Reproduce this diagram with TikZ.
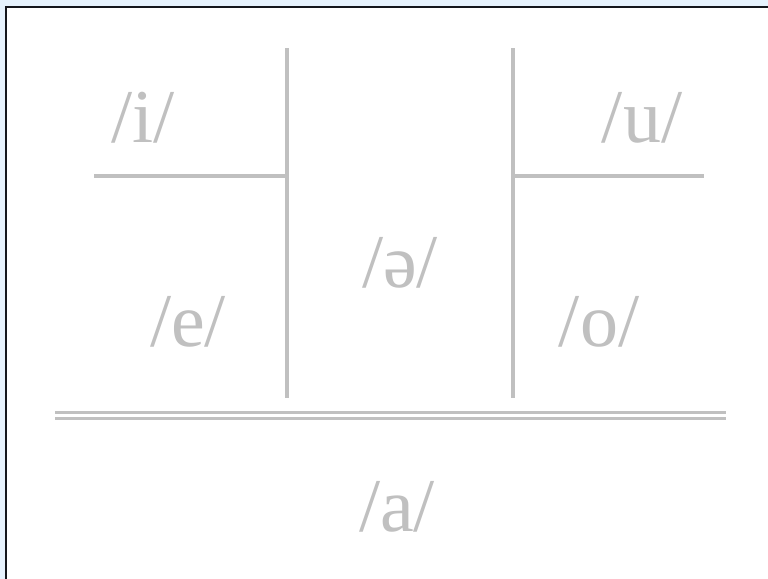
\documentclass[tikz,border=0pt]{standalone}
\usepackage{fontspec}
\setmainfont{Liberation Serif}
\definecolor{framebg}{RGB}{230,242,253}
\definecolor{framerule}{RGB}{20,22,28}
\definecolor{vowelgray}{RGB}{192,192,192}
\begin{document}
\begin{tikzpicture}[x=0.5pt,y=-0.5pt,font=\fontsize{38}{44}\selectfont,
  vowel/.style={text=vowelgray,inner sep=0pt},
  grid/.style={vowelgray,line width=2pt}]
  \useasboundingbox (0,0) rectangle (768,579);
  \clip (0,0) rectangle (768,579);
  \fill[framebg] (0,0) rectangle (768,579);
  \draw[framerule,line width=1.1pt,fill=white] (6,7) rectangle (800,620);
  % vowel chart
  \draw[grid] (287,48) -- (287,398);
  \draw[grid] (513,48) -- (513,398);
  \draw[grid] (94,176) -- (287,176);
  \draw[grid] (513,176) -- (704,176);
  \draw[vowelgray,line width=1.5pt] (55,412) -- (726,412) (55,418) -- (726,418);
  \node[vowel] (i) at (143,118) {/i/};
  \node[vowel] (u) at (642,118) {/u/};
  \node[vowel] (schwa) at (400,263) {/ə/};
  \node[vowel] (e) at (188,322) {/e/};
  \node[vowel] (o) at (599,322) {/o/};
  \node[vowel] (a) at (397,507) {/a/};
\end{tikzpicture}
\end{document}
